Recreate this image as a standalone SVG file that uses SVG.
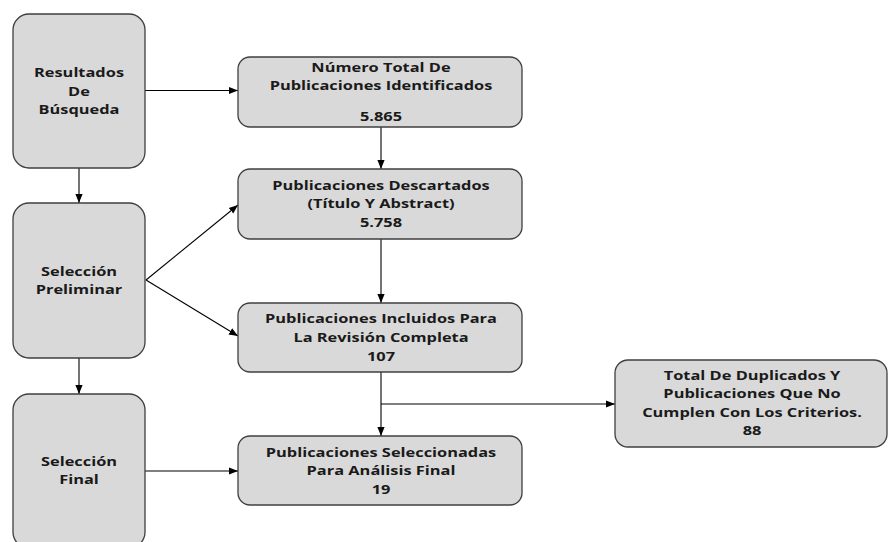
<svg xmlns="http://www.w3.org/2000/svg" width="888" height="542" viewBox="0 0 888 542">
<style>
.box{fill:#d9d9d9;stroke:#3f3f3f;stroke-width:1.3}
text{font-family:"Open Sans","Noto Sans",sans-serif;font-weight:bold;font-size:12.6px;fill:#1a1a1a;text-anchor:middle}
.ln{stroke:#000;stroke-width:1.1;fill:none;marker-end:url(#ah)}
</style>
<defs>
<marker id="ah" viewBox="0 0 10 10" refX="10" refY="5" markerWidth="9" markerHeight="9" markerUnits="userSpaceOnUse" orient="auto">
<path d="M0,1 L10,5 L0,9 Z" fill="#000"/>
</marker>
</defs>
<rect width="888" height="542" fill="#fff"/>
<g id="connectors">
<line class="ln" x1="145" y1="90.5" x2="238" y2="90.5"/>
<line class="ln" x1="79" y1="168" x2="79" y2="203"/>
<line class="ln" x1="146" y1="280" x2="238" y2="205"/>
<line class="ln" x1="146" y1="280" x2="238" y2="336"/>
<line class="ln" x1="79" y1="358" x2="79" y2="394"/>
<line class="ln" x1="145" y1="471" x2="238" y2="471"/>
<line class="ln" x1="381" y1="127" x2="381" y2="169"/>
<line class="ln" x1="381" y1="239" x2="381" y2="303"/>
<line class="ln" x1="381" y1="372" x2="381" y2="436"/>
<line class="ln" x1="381" y1="404" x2="615" y2="404"/>
</g>
<g id="n1"><rect class="box" x="13" y="14" width="132" height="154" rx="16"/>
<g transform="translate(79 0) scale(1.3 1)"><text x="0" y="77">Resultados</text><text x="0" y="96">De</text><text x="0" y="114">Búsqueda</text></g></g>
<g id="n2"><rect class="box" x="13" y="203" width="132" height="155" rx="16"/>
<g transform="translate(79 0) scale(1.3 1)"><text x="0" y="276">Selección</text><text x="0" y="294">Preliminar</text></g></g>
<g id="n3"><rect class="box" x="13" y="394" width="132" height="154" rx="16"/>
<g transform="translate(79 0) scale(1.3 1)"><text x="0" y="466">Selección</text><text x="0" y="484">Final</text></g></g>
<g id="nA"><rect class="box" x="238" y="57" width="284" height="70" rx="12"/>
<g transform="translate(381 0) scale(1.3 1)"><text x="0" y="72">Número Total De</text><text x="0" y="90">Publicaciones Identificados</text><text x="0" y="121">5.865</text></g></g>
<g id="nB"><rect class="box" x="238" y="169" width="284" height="70" rx="12"/>
<g transform="translate(381 0) scale(1.3 1)"><text x="0" y="190">Publicaciones Descartados</text><text x="0" y="208">(Título Y Abstract)</text><text x="0" y="227">5.758</text></g></g>
<g id="nC"><rect class="box" x="238" y="303" width="284" height="69" rx="12"/>
<g transform="translate(381 0) scale(1.3 1)"><text x="0" y="323">Publicaciones Incluidos Para</text><text x="0" y="342">La Revisión Completa</text><text x="0" y="361">107</text></g></g>
<g id="nD"><rect class="box" x="238" y="436" width="284" height="69" rx="12"/>
<g transform="translate(381 0) scale(1.3 1)"><text x="0" y="457">Publicaciones Seleccionadas</text><text x="0" y="475">Para Análisis Final</text><text x="0" y="494">19</text></g></g>
<g id="nE"><rect class="box" x="615" y="360" width="272" height="87" rx="13"/>
<g transform="translate(752 0) scale(1.3 1)"><text x="0" y="380">Total De Duplicados Y</text><text x="0" y="398">Publicaciones Que No</text><text x="0" y="417">Cumplen Con Los Criterios.</text><text x="0" y="435">88</text></g></g>
</svg>
